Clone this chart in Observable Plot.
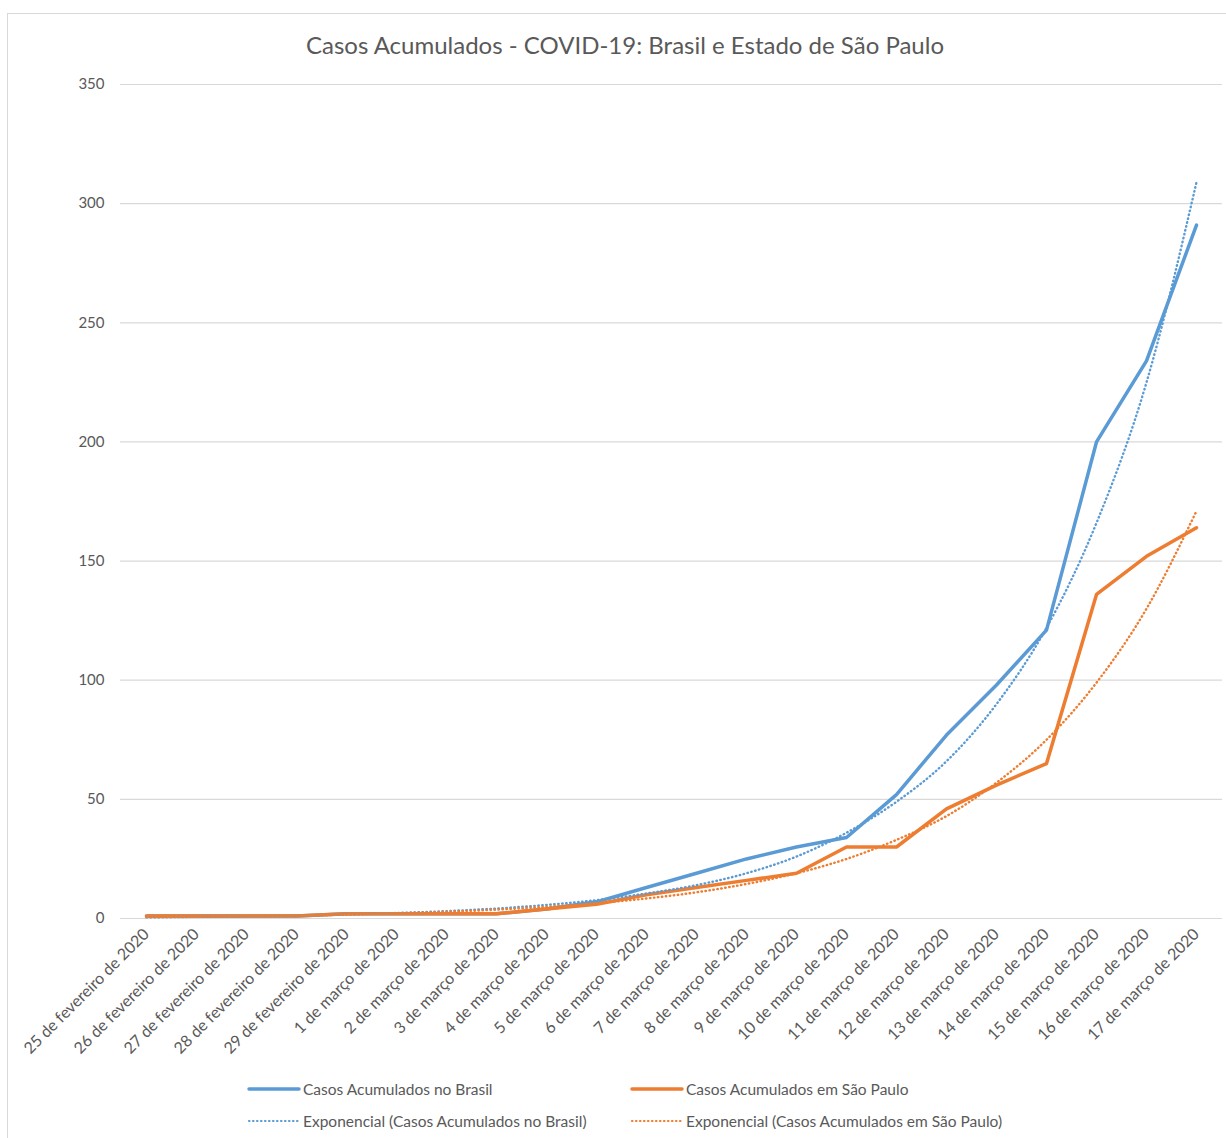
<!DOCTYPE html>
<html>
<head>
<meta charset="utf-8">
<script src="https://cdn.jsdelivr.net/npm/d3@7"></script>
<script src="https://cdn.jsdelivr.net/npm/@observablehq/plot@0.6"></script>
<style>
  body { margin: 0; background: #fff; font-family: Lato, sans-serif; }
  #frame { position: absolute; left: 7px; top: 13px; width: 1240px; height: 1150px; border: 1px solid #d9d9d9; pointer-events: none; z-index: 5; }
  #page { position: absolute; left: 0; top: 0; width: 1226px; height: 1138px; }
  #title { position: absolute; left: 0; top: 0; width: 1250px; height: 64px; text-align: center; line-height: 90px; font-size: 24px; color: #595959; }
  #chart { position: absolute; left: 0; top: 64px; }
  #legend { position: absolute; left: 0; top: 1070px; width: 1226px; height: 68px; font-size: 15.5px; color: #595959; }
  .item { position: absolute; display: flex; align-items: center; white-space: nowrap; }
  .item svg { margin-right: 2px; }
</style>
</head>
<body>
<div id="frame"></div>
<div id="page">
  <div id="title">Casos Acumulados - COVID-19: Brasil e Estado de São Paulo</div>
  <div id="chart"></div>
  <div id="legend"></div>
</div>
<script>
const categories = [
  "25 de fevereiro de 2020", "26 de fevereiro de 2020", "27 de fevereiro de 2020",
  "28 de fevereiro de 2020", "29 de fevereiro de 2020", "1 de março de 2020",
  "2 de março de 2020", "3 de março de 2020", "4 de março de 2020", "5 de março de 2020",
  "6 de março de 2020", "7 de março de 2020", "8 de março de 2020", "9 de março de 2020",
  "10 de março de 2020", "11 de março de 2020", "12 de março de 2020", "13 de março de 2020",
  "14 de março de 2020", "15 de março de 2020", "16 de março de 2020", "17 de março de 2020"
];
const brasil = [1, 1, 1, 1, 2, 2, 2, 2, 4, 7, 13, 19, 25, 30, 34, 52, 77, 98, 121, 200, 234, 291];
const saoPaulo = [1, 1, 1, 1, 2, 2, 2, 2, 4, 6, 10, 13, 16, 19, 30, 30, 46, 56, 65, 136, 152, 164];
const expBrasil = [0.5, 0.7, 0.9, 1.2, 1.7, 2.3, 3.1, 4.2, 5.7, 7.7, 10.5, 14, 19, 26, 36, 49, 66, 90, 122, 166, 225, 309];
const expSaoPaulo = [0.57, 0.75, 1.0, 1.3, 1.6, 2.2, 2.8, 3.7, 4.9, 6.4, 8.4, 11, 14.5, 19, 25, 33, 43, 57, 75, 99, 130, 171];
const yTicks = [0, 50, 100, 150, 200, 250, 300, 350];
const seriesNames = [
  "Casos Acumulados no Brasil", "Casos Acumulados em São Paulo",
  "Exponencial (Casos Acumulados no Brasil)", "Exponencial (Casos Acumulados em São Paulo)"
];

const blue = "#5b9bd5", orange = "#ed7d31";
const rows = (vals) => categories.map((c, i) => ({c, v: vals[i]}));

const chart = Plot.plot({
  width: 1226,
  height: 1006,
  marginTop: 20,
  marginBottom: 152,
  marginLeft: 120,
  marginRight: 4,
  style: {fontFamily: "Lato, sans-serif", fontSize: "15px", color: "#595959", background: "none"},
  x: {type: "point", domain: categories, padding: 0.5, label: null},
  y: {domain: [0, 350], ticks: yTicks, label: null},
  marks: [
    Plot.ruleY(yTicks, {stroke: "#d9d9d9", strokeWidth: 1.2}),
    Plot.axisY({ticks: yTicks, tickSize: 0, tickPadding: 16, label: null, fill: "#595959", fontSize: 15}),
    Plot.axisX({tickSize: 0, tickPadding: 13, tickRotate: -45, label: null, fill: "#595959", fontSize: 16}),
    Plot.line(rows(brasil), {x: "c", y: "v", stroke: blue, strokeWidth: 3.5}),
    Plot.line(rows(saoPaulo), {x: "c", y: "v", stroke: orange, strokeWidth: 3.5}),
    Plot.line(rows(expBrasil), {x: "c", y: "v", stroke: blue, strokeWidth: 2.4, strokeDasharray: "0.5,3.5", strokeLinecap: "round", curve: "monotone-x"}),
    Plot.line(rows(expSaoPaulo), {x: "c", y: "v", stroke: orange, strokeWidth: 2.4, strokeDasharray: "0.5,3.5", strokeLinecap: "round", curve: "monotone-x"})
  ]
});
document.getElementById("chart").appendChild(chart);

const legend = document.getElementById("legend");
const items = [
  {name: seriesNames[0], color: blue, dotted: false, x: 247, y: 19},
  {name: seriesNames[1], color: orange, dotted: false, x: 630, y: 19},
  {name: seriesNames[2], color: blue, dotted: true, x: 247, y: 51},
  {name: seriesNames[3], color: orange, dotted: true, x: 630, y: 51}
];
for (const it of items) {
  const d = document.createElement("div");
  d.className = "item";
  d.style.left = it.x + "px";
  d.style.top = (it.y - 10) + "px";
  d.style.height = "20px";
  const dash = it.dotted ? 'stroke-dasharray="0.5,3.5" stroke-linecap="round" stroke-width="2.2"' : 'stroke-width="3.5" stroke-linecap="round"';
  d.innerHTML = `<svg width="54" height="10"><line x1="2" y1="5" x2="52" y2="5" stroke="${it.color}" ${dash}/></svg><span>${it.name}</span>`;
  legend.appendChild(d);
}
</script>
</body>
</html>
